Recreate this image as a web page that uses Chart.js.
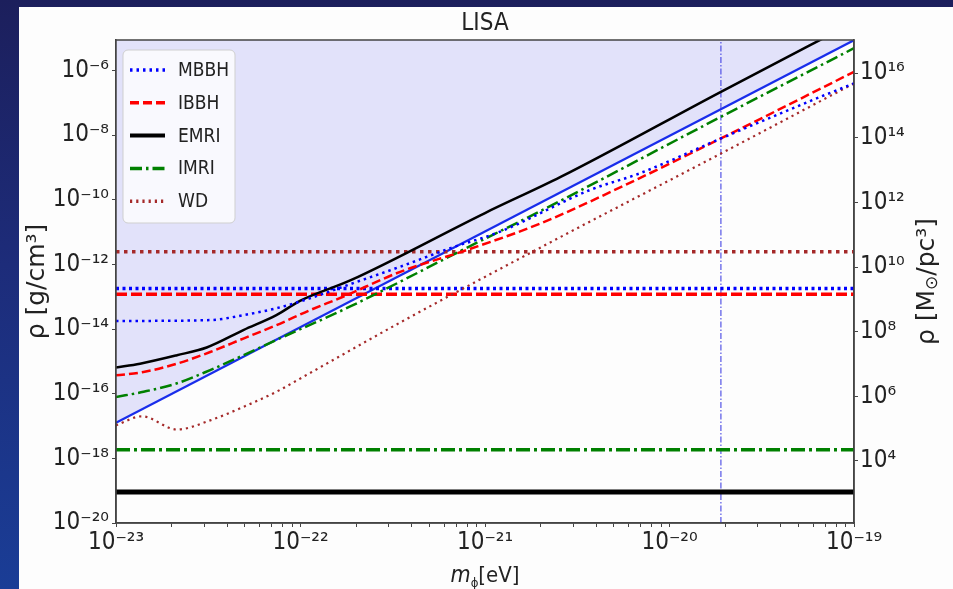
<!DOCTYPE html>
<html>
<head>
<meta charset="utf-8">
<title>LISA</title>
<script src="https://cdn.jsdelivr.net/npm/chart.js@4.4.0/dist/chart.umd.min.js"></script>
<style>
  html, body { margin: 0; padding: 0; }
  body {
    width: 953px; height: 589px; overflow: hidden; position: relative;
    background: linear-gradient(180deg, #1c1f5c 0%, #1d2c7a 45%, #1a3d96 100%);
  }
  #panel { position: absolute; left: 19px; top: 7px; right: 0; bottom: 0; background: #fdfdfd; }
  #lisa { position: absolute; left: 0; top: 0; }
</style>
</head>
<body>
<div id="panel"></div>
<canvas id="lisa" width="953" height="589"></canvas>
<script>
// scalar mass m_phi [eV] vs. density rho [g/cm^3] reach of each LISA source

const sources = ['MBBH', 'IBBH', 'EMRI', 'IMRI', 'WD'];

const mbbhMass = [1e-23, 3.24e-23, 4.9e-23, 7.4e-23, 1.12e-22, 1.86e-22, 3.47e-22, 6.5e-22, 1.2e-21, 3.7e-21, 6.9e-21, 1.9e-20, 6.6e-20, 1e-19];
const mbbhRho  = [1.78e-14, 1.9e-14, 2.7e-14, 4.4e-14, 8.9e-14, 2.45e-13, 8.5e-13, 3.2e-12, 1.02e-11, 2.0e-10, 6.6e-10, 7.9e-9, 1.55e-7, 4.0e-7];

const ibbhMass = [1e-23, 1.41e-23, 2.14e-23, 3.24e-23, 4.9e-23, 7.4e-23, 1.12e-22, 1.7e-22, 3.47e-22, 7.9e-22, 2.0e-21, 6.9e-21, 1.9e-20, 1e-19];
const ibbhRho  = [3.7e-16, 4.7e-16, 8.5e-16, 1.95e-15, 5.1e-15, 1.32e-14, 3.8e-14, 1.0e-13, 5.9e-13, 2.75e-12, 1.86e-11, 4.7e-10, 7.9e-9, 9.1e-7];

const emriMass = [1e-23, 1.35e-23, 2.14e-23, 3.1e-23, 4.9e-23, 7.4e-23, 1e-22, 1.86e-22, 1e-21, 2.57e-21, 1.9e-20, 1e-19];
const emriRho  = [6.5e-16, 8.5e-16, 1.55e-15, 2.7e-15, 9.3e-15, 2.7e-14, 7.6e-14, 3.2e-13, 3.9e-11, 5.1e-10, 2.2e-7, 3.1e-5];

const imriMass = [1e-23, 1.41e-23, 2.14e-23, 3.24e-23, 4.9e-23, 7.4e-23, 1.86e-22, 7.9e-22, 2.0e-21, 1.9e-20, 1e-19];
const imriRho  = [7.9e-17, 1.15e-16, 2.1e-16, 5.4e-16, 1.55e-15, 4.6e-15, 5.0e-14, 3.2e-12, 4.5e-11, 3.7e-8, 4.9e-6];

const wdMass = [1e-23, 1.38e-23, 2.14e-23, 3.24e-23, 4.9e-23, 7.4e-23, 1.12e-22, 3.47e-22, 2.57e-21, 1.9e-20, 1e-19];
const wdRho  = [1.05e-17, 2.0e-17, 7.8e-18, 1.5e-17, 3.9e-17, 1.15e-16, 4.3e-16, 1.6e-14, 7.1e-12, 2.7e-9, 4.0e-7];

// constant density limits, same order as sources
const limitRho = [1.8e-13, 1.2e-13, 9.1e-20, 1.86e-18, 2.45e-12];

// lower edge of the shaded region
const boundMass = [1e-23, 1e-19];
const boundRho  = [1.26e-17, 8.7e-6];

const cutoffMass = 1.9e-20;

const massRange = [1e-23, 1e-19];
const rhoRange  = [1e-20, 8.8e-6];
const gcm3ToMsunPc3 = 1.2e22;

const xTickValues  = [1e-23, 1e-22, 1e-21, 1e-20, 1e-19];
const yTickValues  = [1e-20, 1e-18, 1e-16, 1e-14, 1e-12, 1e-10, 1e-8, 1e-6];
const y2TickValues = [1e4, 1e6, 1e8, 1e10, 1e12, 1e14, 1e16];

// styles
const lineColor = { MBBH: 'rgb(0,0,255)', IBBH: 'rgb(255,0,0)', EMRI: 'rgb(0,0,0)', IMRI: 'rgb(0,128,0)', WD: 'rgb(165,42,42)' };
const curveDash = { MBBH: [2.5, 4], IBBH: [9, 4], EMRI: [], IMRI: [12, 4, 2.5, 4], WD: [2.2, 4] };
const limitDash = { MBBH: [3, 3.5], IBBH: [11, 4], EMRI: [], IMRI: [14, 4, 3, 4], WD: [3.5, 4.5] };

const condensed = '"DejaVu Sans Condensed", "DejaVu Sans", sans-serif';
const plain = '"DejaVu Sans", sans-serif';

const curveMass = { MBBH: mbbhMass, IBBH: ibbhMass, EMRI: emriMass, IMRI: imriMass, WD: wdMass };
const curveRho  = { MBBH: mbbhRho,  IBBH: ibbhRho,  EMRI: emriRho,  IMRI: imriRho,  WD: wdRho };

const SUP = { '-': '\u207B', '0': '\u2070', '1': '\u00B9', '2': '\u00B2', '3': '\u00B3', '4': '\u2074',
              '5': '\u2075', '6': '\u2076', '7': '\u2077', '8': '\u2078', '9': '\u2079' };
const isDecade = v => Math.abs(Math.log10(v) - Math.round(Math.log10(v))) < 1e-6;
const pow10Label = v => '10' + String(Math.round(Math.log10(v))).split('').map(c => SUP[c]).join('');

// 2..9 x 10^n minor ticks between the decades
const xMinorTicks = [];
for (let i = 0; i < xTickValues.length - 1; i++) {
    const e = Math.round(Math.log10(xTickValues[i]));
    for (let k = 2; k <= 9; k++) xMinorTicks.push(Number(k + 'e' + e));
}

const curveSets = sources.map(name => ({
    label: name,
    inLegend: true,
    data: curveMass[name].map((m, i) => ({ x: m, y: curveRho[name][i] })),
    borderColor: lineColor[name],
    borderDash: curveDash[name],
    borderWidth: name === 'WD' ? 2.2 : 2.5,
    borderCapStyle: 'butt',
    cubicInterpolationMode: 'monotone',
    pointRadius: 0,
    fill: false
}));

const limitSets = sources.map((name, k) => ({
    label: name + ' limit',
    data: massRange.map(m => ({ x: m, y: limitRho[k] })),
    borderColor: lineColor[name],
    borderDash: limitDash[name],
    borderWidth: name === 'EMRI' ? 5 : 3.5,
    borderCapStyle: 'butt',
    pointRadius: 0,
    fill: false
}));

const cutoffSet = {
    label: 'cutoff',
    data: rhoRange.map(r => ({ x: cutoffMass, y: r })),
    borderColor: 'rgb(50,50,225)',
    borderDash: [6, 2, 1.5, 2],
    borderWidth: 1,
    pointRadius: 0,
    fill: false
};

const boundSet = {
    label: 'bound',
    data: boundMass.map((m, i) => ({ x: m, y: boundRho[i] })),
    borderColor: 'rgb(25,45,235)',
    borderWidth: 2.2,
    pointRadius: 0,
    fill: 'end',
    backgroundColor: 'rgb(226,226,250)'
};

const tickFont = { family: condensed, size: 24 };

// writes a run of differently sized pieces centred on (0, 0) of the current transform
function drawPieces(ctx, parts, base) {
    let total = 0;
    parts.forEach(p => { ctx.font = p.f; p.w = ctx.measureText(p.t).width; total += p.w; });
    let x = -total / 2;
    ctx.textAlign = 'left';
    ctx.textBaseline = 'alphabetic';
    parts.forEach(p => { ctx.font = p.f; ctx.fillText(p.t, x, base + p.dy); x += p.w; });
}

// title, frame, legend inside the axes, right and bottom axis titles
const decorations = {
    id: 'decorations',
    afterDatasetsDraw(chart) {
        const { ctx, chartArea: a } = chart;
        ctx.save();
        ctx.setLineDash([]);
        ctx.strokeStyle = '#444';
        ctx.lineWidth = 1.5;
        ctx.strokeRect(a.left, a.top, a.right - a.left, a.bottom - a.top);

        const bx = a.left + 7, by = a.top + 10;
        ctx.beginPath();
        ctx.roundRect(bx, by, 112, 173, 5);
        ctx.fillStyle = 'rgba(255,255,255,0.8)';
        ctx.fill();
        ctx.strokeStyle = '#cfcfcf';
        ctx.lineWidth = 1;
        ctx.stroke();

        const items = chart.data.datasets.filter(d => d.inLegend);
        ctx.font = '19px ' + condensed;
        ctx.textBaseline = 'middle';
        ctx.textAlign = 'left';
        items.forEach((d, i) => {
            const ry = a.top + 30 + i * 32.8;
            ctx.beginPath();
            ctx.setLineDash(d.borderDash);
            ctx.strokeStyle = d.borderColor;
            ctx.lineWidth = d.label === 'EMRI' ? 4 : 3.5;
            ctx.lineCap = 'butt';
            ctx.moveTo(a.left + 14, ry);
            ctx.lineTo(a.left + 49, ry);
            ctx.stroke();
            ctx.setLineDash([]);
            ctx.fillStyle = '#222';
            ctx.fillText(d.label, a.left + 62, ry + 1);
        });
        ctx.restore();
    },
    afterDraw(chart) {
        const { ctx, chartArea: a } = chart;
        const midX = (a.left + a.right) / 2;
        ctx.save();
        ctx.fillStyle = '#222';

        // plot title over the axes
        ctx.font = '24px ' + condensed;
        ctx.textAlign = 'center';
        ctx.textBaseline = 'middle';
        ctx.fillText('LISA', midX, 24);

        // right axis title, reading bottom to top like the left one
        ctx.translate(a.right + 71, (a.top + a.bottom) / 2);
        ctx.rotate(-Math.PI / 2);
        drawPieces(ctx, [
            { t: '\u03C1 [M', f: '25px ' + plain, dy: 0 },
            { t: '\u2299', f: '17px ' + plain, dy: 3 },
            { t: '/pc\u00B3]', f: '25px ' + plain, dy: 0 }
        ], 9);
        ctx.setTransform(1, 0, 0, 1, 0, 0);

        // x title: italic m with subscript phi
        ctx.translate(midX, 0);
        drawPieces(ctx, [
            { t: 'm', f: 'italic 23px ' + condensed, dy: 0 },
            { t: '\u03D5', f: '13px ' + condensed, dy: 5 },
            { t: '[eV]', f: '22px ' + condensed, dy: 0 }
        ], 582);
        ctx.restore();
    }
};

Chart.defaults.font.family = condensed;
Chart.defaults.color = '#222';

const lisaChart = new Chart(document.getElementById('lisa'), {
    type: 'line',
    data: { datasets: [...curveSets, ...limitSets, cutoffSet, boundSet] },
    options: {
        responsive: false,
        animation: false,
        devicePixelRatio: 1,
        layout: { padding: { top: 40, left: 0, right: 0, bottom: 0 } },
        plugins: {
            legend: { display: false },
            tooltip: { enabled: false },
            title: { display: false },
            filler: { drawTime: 'beforeDatasetsDraw' }
        },
        scales: {
            x: {
                type: 'logarithmic',
                min: massRange[0],
                max: massRange[1],
                afterBuildTicks: s => {
                    s.ticks = [...xTickValues, ...xMinorTicks].sort((p, q) => p - q)
                        .map(v => ({ value: v, major: isDecade(v) }));
                },
                afterFit: s => { s.height = 66; },
                ticks: {
                    autoSkip: false, maxRotation: 0, minRotation: 0, padding: 1,
                    font: tickFont, color: '#222',
                    callback: v => isDecade(v) ? pow10Label(v) : ''
                },
                grid: { display: true, drawOnChartArea: false, drawTicks: true, tickLength: 4, color: '#444' },
                border: { display: true, color: '#444', width: 1.5 }
            },
            y: {
                type: 'logarithmic',
                position: 'left',
                min: rhoRange[0],
                max: rhoRange[1],
                afterBuildTicks: s => { s.ticks = yTickValues.map(v => ({ value: v, major: true })); },
                afterFit: s => { s.width = 116; },
                ticks: { autoSkip: false, padding: 3, font: tickFont, color: '#222', callback: v => pow10Label(v) },
                grid: { display: true, drawOnChartArea: false, drawTicks: true, tickLength: 4, color: '#444' },
                border: { display: true, color: '#444', width: 1.5 },
                title: {
                    display: true,
                    text: '\u03C1 [g/cm\u00B3]',
                    color: '#222',
                    font: { family: plain, size: 25 },
                    padding: { top: 22, bottom: 0 }
                }
            },
            y2: {
                type: 'logarithmic',
                position: 'right',
                min: rhoRange[0] * gcm3ToMsunPc3,
                max: rhoRange[1] * gcm3ToMsunPc3,
                afterBuildTicks: s => { s.ticks = y2TickValues.map(v => ({ value: v, major: true })); },
                afterFit: s => { s.width = 99; },
                ticks: { autoSkip: false, padding: 2, font: tickFont, color: '#222', callback: v => pow10Label(v) },
                grid: { display: true, drawOnChartArea: false, drawTicks: true, tickLength: 4, color: '#444' },
                border: { display: true, color: '#444', width: 1.5 }
            }
        }
    },
    plugins: [decorations]
});
</script>
</body>
</html>
